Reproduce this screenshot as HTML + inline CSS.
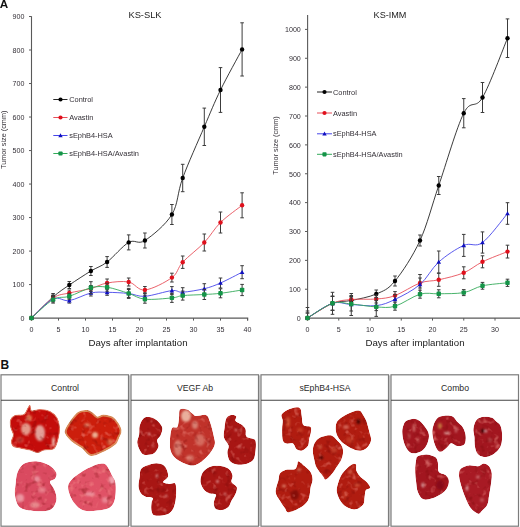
<!DOCTYPE html>
<html><head><meta charset="utf-8"><title>Figure</title>
<style>
html,body{margin:0;padding:0;background:#fff;}
body{width:520px;height:527px;position:relative;overflow:hidden;font-family:"Liberation Sans",sans-serif;}
</style></head><body>
<svg width="520" height="527" viewBox="0 0 520 527" style="position:absolute;left:0;top:0">
<defs><filter id="bl" x="-50%" y="-50%" width="200%" height="200%"><feGaussianBlur stdDeviation="0.8"/></filter><filter id="soft" filterUnits="userSpaceOnUse" x="0" y="400" width="520" height="127" color-interpolation-filters="sRGB"><feTurbulence type="fractalNoise" baseFrequency="0.16" numOctaves="2" seed="7" result="n"/><feColorMatrix in="n" type="matrix" values="0 0 0 0 0.98  0 0 0 0 0.62  0 0 0 0 0.58  1.6 0 0 0 -0.92" result="lt"/><feColorMatrix in="n" type="matrix" values="0 0 0 0 0.45  0 0 0 0 0.02  0 0 0 0 0.02  0 1.3 0 0 -0.72" result="dk"/><feMerge result="m"><feMergeNode in="SourceGraphic"/><feMergeNode in="dk"/><feMergeNode in="lt"/></feMerge><feComposite in="m" in2="SourceAlpha" operator="in" result="c"/><feGaussianBlur in="c" stdDeviation="0.6"/></filter></defs>
<rect x="129.10" y="375.4" width="1.3" height="150.6" fill="#c4c4c4"/>
<rect x="259.10" y="375.4" width="1.3" height="150.6" fill="#c4c4c4"/>
<rect x="389.10" y="375.4" width="1.3" height="150.6" fill="#c4c4c4"/>
<rect x="1.00" y="374.8" width="127.50" height="151.4" fill="#fff" stroke="#7c7c7c" stroke-width="1.2"/>
<path d="M1.00,400.3 H128.50" stroke="#444" stroke-width="1.1"/>
<text x="65.05" y="390.7" font-family='"Liberation Sans", sans-serif' font-size="8.7" text-anchor="middle" fill="#2a2a2a">Control</text>
<rect x="131.00" y="374.8" width="127.50" height="151.4" fill="#fff" stroke="#7c7c7c" stroke-width="1.2"/>
<path d="M131.00,400.3 H258.50" stroke="#444" stroke-width="1.1"/>
<text x="195.05" y="390.7" font-family='"Liberation Sans", sans-serif' font-size="8.7" text-anchor="middle" fill="#2a2a2a">VEGF Ab</text>
<rect x="261.00" y="374.8" width="127.50" height="151.4" fill="#fff" stroke="#7c7c7c" stroke-width="1.2"/>
<path d="M261.00,400.3 H388.50" stroke="#444" stroke-width="1.1"/>
<text x="325.05" y="390.7" font-family='"Liberation Sans", sans-serif' font-size="8.7" text-anchor="middle" fill="#2a2a2a">sEphB4-HSA</text>
<rect x="391.00" y="374.8" width="127.50" height="151.4" fill="#fff" stroke="#7c7c7c" stroke-width="1.2"/>
<path d="M391.00,400.3 H518.50" stroke="#444" stroke-width="1.1"/>
<text x="455.05" y="390.7" font-family='"Liberation Sans", sans-serif' font-size="8.7" text-anchor="middle" fill="#2a2a2a">Combo</text>
<g filter="url(#soft)">
<clipPath id="c1"><path d="M10.60,420.00 C11.27,417.92 12.77,416.42 15.00,415.50 C17.23,414.58 21.83,415.75 24.00,414.50 C26.17,413.25 27.00,409.48 28.00,408.00 C29.00,406.52 29.42,405.10 30.00,405.60 C30.58,406.10 29.83,410.35 31.50,411.00 C33.17,411.65 36.92,409.42 40.00,409.50 C43.08,409.58 47.17,410.08 50.00,411.50 C52.83,412.92 55.42,415.25 57.00,418.00 C58.58,420.75 59.33,424.50 59.50,428.00 C59.67,431.50 58.92,435.58 58.00,439.00 C57.08,442.42 56.33,446.67 54.00,448.50 C51.67,450.33 46.75,449.33 44.00,450.00 C41.25,450.67 39.83,452.50 37.50,452.50 C35.17,452.50 32.92,450.75 30.00,450.00 C27.08,449.25 22.83,448.67 20.00,448.00 C17.17,447.33 14.42,447.17 13.00,446.00 C11.58,444.83 11.42,442.83 11.50,441.00 C11.58,439.17 13.58,437.17 13.50,435.00 C13.42,432.83 11.48,430.50 11.00,428.00 C10.52,425.50 9.93,422.08 10.60,420.00Z"/></clipPath>
<path d="M10.60,420.00 C11.27,417.92 12.77,416.42 15.00,415.50 C17.23,414.58 21.83,415.75 24.00,414.50 C26.17,413.25 27.00,409.48 28.00,408.00 C29.00,406.52 29.42,405.10 30.00,405.60 C30.58,406.10 29.83,410.35 31.50,411.00 C33.17,411.65 36.92,409.42 40.00,409.50 C43.08,409.58 47.17,410.08 50.00,411.50 C52.83,412.92 55.42,415.25 57.00,418.00 C58.58,420.75 59.33,424.50 59.50,428.00 C59.67,431.50 58.92,435.58 58.00,439.00 C57.08,442.42 56.33,446.67 54.00,448.50 C51.67,450.33 46.75,449.33 44.00,450.00 C41.25,450.67 39.83,452.50 37.50,452.50 C35.17,452.50 32.92,450.75 30.00,450.00 C27.08,449.25 22.83,448.67 20.00,448.00 C17.17,447.33 14.42,447.17 13.00,446.00 C11.58,444.83 11.42,442.83 11.50,441.00 C11.58,439.17 13.58,437.17 13.50,435.00 C13.42,432.83 11.48,430.50 11.00,428.00 C10.52,425.50 9.93,422.08 10.60,420.00Z" fill="#c40c0a" stroke="#dd7058" stroke-width="1.20"/>
<g clip-path="url(#c1)"><g filter="url(#bl)">
<ellipse cx="26.00" cy="429.00" rx="5.00" ry="6.00" fill="#eab0a0" opacity="0.85"/>
<ellipse cx="40.00" cy="433.00" rx="5.00" ry="8.00" fill="#e8b8b0" opacity="0.85"/>
<ellipse cx="53.50" cy="442.00" rx="1.50" ry="5.00" fill="#f0d0c0" opacity="0.90"/>
<ellipse cx="29.00" cy="418.00" rx="3.00" ry="3.00" fill="#e89060" opacity="0.80"/>
<ellipse cx="20.00" cy="440.00" rx="4.00" ry="3.00" fill="#e07060" opacity="0.50"/>
</g></g>
<clipPath id="c2"><path d="M65.60,432.00 C65.39,428.67 69.06,424.25 71.25,421.00 C73.44,417.75 76.04,414.17 78.75,412.50 C81.46,410.83 85.12,410.75 87.50,411.00 C89.88,411.25 91.33,412.92 93.00,414.00 C94.67,415.08 95.71,417.23 97.50,417.50 C99.29,417.77 101.04,415.39 103.75,415.60 C106.46,415.81 110.94,416.35 113.75,418.75 C116.56,421.15 119.89,426.79 120.60,430.00 C121.31,433.21 118.93,435.71 118.00,438.00 C117.07,440.29 117.17,441.75 115.00,443.75 C112.83,445.75 108.96,448.12 105.00,450.00 C101.04,451.88 95.00,455.42 91.25,455.00 C87.50,454.58 85.62,449.83 82.50,447.50 C79.38,445.17 75.32,443.58 72.50,441.00 C69.68,438.42 65.81,435.33 65.60,432.00Z"/></clipPath>
<path d="M65.60,432.00 C65.39,428.67 69.06,424.25 71.25,421.00 C73.44,417.75 76.04,414.17 78.75,412.50 C81.46,410.83 85.12,410.75 87.50,411.00 C89.88,411.25 91.33,412.92 93.00,414.00 C94.67,415.08 95.71,417.23 97.50,417.50 C99.29,417.77 101.04,415.39 103.75,415.60 C106.46,415.81 110.94,416.35 113.75,418.75 C116.56,421.15 119.89,426.79 120.60,430.00 C121.31,433.21 118.93,435.71 118.00,438.00 C117.07,440.29 117.17,441.75 115.00,443.75 C112.83,445.75 108.96,448.12 105.00,450.00 C101.04,451.88 95.00,455.42 91.25,455.00 C87.50,454.58 85.62,449.83 82.50,447.50 C79.38,445.17 75.32,443.58 72.50,441.00 C69.68,438.42 65.81,435.33 65.60,432.00Z" fill="#cc1e0c" stroke="#d88a58" stroke-width="2.00"/>
<g clip-path="url(#c2)"><g filter="url(#bl)">
<ellipse cx="95.00" cy="435.00" rx="3.00" ry="3.00" fill="#eec0a0" opacity="0.90"/>
<ellipse cx="87.00" cy="425.00" rx="3.00" ry="2.00" fill="#e8a080" opacity="0.70"/>
<ellipse cx="110.00" cy="442.00" rx="3.00" ry="3.00" fill="#e8a070" opacity="0.60"/>
</g></g>
<clipPath id="c3"><path d="M23.75,463.75 C26.88,461.88 32.08,461.04 36.25,461.25 C40.42,461.46 45.42,463.12 48.75,465.00 C52.08,466.88 55.21,470.21 56.25,472.50 C57.29,474.79 56.04,477.18 55.00,478.75 C53.96,480.32 50.00,479.86 50.00,481.90 C50.00,483.94 53.96,487.82 55.00,491.00 C56.04,494.18 57.08,497.83 56.25,501.00 C55.42,504.17 53.75,508.33 50.00,510.00 C46.25,511.67 38.75,511.42 33.75,511.00 C28.75,510.58 23.12,510.00 20.00,507.50 C16.88,505.00 15.73,499.96 15.00,496.00 C14.27,492.04 15.18,487.67 15.60,483.75 C16.02,479.83 16.14,475.83 17.50,472.50 C18.86,469.17 20.62,465.62 23.75,463.75Z"/></clipPath>
<path d="M23.75,463.75 C26.88,461.88 32.08,461.04 36.25,461.25 C40.42,461.46 45.42,463.12 48.75,465.00 C52.08,466.88 55.21,470.21 56.25,472.50 C57.29,474.79 56.04,477.18 55.00,478.75 C53.96,480.32 50.00,479.86 50.00,481.90 C50.00,483.94 53.96,487.82 55.00,491.00 C56.04,494.18 57.08,497.83 56.25,501.00 C55.42,504.17 53.75,508.33 50.00,510.00 C46.25,511.67 38.75,511.42 33.75,511.00 C28.75,510.58 23.12,510.00 20.00,507.50 C16.88,505.00 15.73,499.96 15.00,496.00 C14.27,492.04 15.18,487.67 15.60,483.75 C16.02,479.83 16.14,475.83 17.50,472.50 C18.86,469.17 20.62,465.62 23.75,463.75Z" fill="#da4a60"/>
<g clip-path="url(#c3)"><g filter="url(#bl)">
<ellipse cx="20.00" cy="498.00" rx="4.00" ry="4.00" fill="#f0a8b0" opacity="0.80"/>
<ellipse cx="37.00" cy="479.00" rx="3.00" ry="3.00" fill="#f0a8b0" opacity="0.70"/>
<ellipse cx="42.00" cy="490.00" rx="4.00" ry="3.00" fill="#ec98a0" opacity="0.60"/>
<ellipse cx="35.00" cy="505.00" rx="5.00" ry="3.00" fill="#f0b0a8" opacity="0.60"/>
</g></g>
<clipPath id="c4"><path d="M100.00,463.75 C102.29,463.54 104.17,462.92 106.25,465.00 C108.33,467.08 110.94,473.12 112.50,476.25 C114.06,479.38 115.18,480.00 115.60,483.75 C116.02,487.50 115.93,494.79 115.00,498.75 C114.07,502.71 112.92,505.52 110.00,507.50 C107.08,509.48 101.88,510.08 97.50,510.60 C93.12,511.12 87.71,511.95 83.75,510.60 C79.79,509.25 76.36,506.14 73.75,502.50 C71.14,498.86 68.52,492.50 68.10,488.75 C67.68,485.00 68.85,482.92 71.25,480.00 C73.65,477.08 78.96,473.54 82.50,471.25 C86.04,468.96 89.58,467.50 92.50,466.25 C95.42,465.00 97.71,463.96 100.00,463.75Z"/></clipPath>
<path d="M100.00,463.75 C102.29,463.54 104.17,462.92 106.25,465.00 C108.33,467.08 110.94,473.12 112.50,476.25 C114.06,479.38 115.18,480.00 115.60,483.75 C116.02,487.50 115.93,494.79 115.00,498.75 C114.07,502.71 112.92,505.52 110.00,507.50 C107.08,509.48 101.88,510.08 97.50,510.60 C93.12,511.12 87.71,511.95 83.75,510.60 C79.79,509.25 76.36,506.14 73.75,502.50 C71.14,498.86 68.52,492.50 68.10,488.75 C67.68,485.00 68.85,482.92 71.25,480.00 C73.65,477.08 78.96,473.54 82.50,471.25 C86.04,468.96 89.58,467.50 92.50,466.25 C95.42,465.00 97.71,463.96 100.00,463.75Z" fill="#e05266"/>
<g clip-path="url(#c4)"><g filter="url(#bl)">
<ellipse cx="112.00" cy="480.00" rx="3.00" ry="4.00" fill="#f4b8c0" opacity="0.80"/>
<ellipse cx="90.00" cy="494.00" rx="5.00" ry="2.00" fill="#f0a8b0" opacity="0.70"/>
<ellipse cx="105.00" cy="500.00" rx="3.00" ry="3.00" fill="#f0a8b0" opacity="0.60"/>
</g></g>
<clipPath id="c5"><path d="M143.40,418.50 C144.98,417.00 147.05,416.93 149.10,417.10 C151.15,417.27 153.80,418.32 155.70,419.50 C157.60,420.68 159.38,422.62 160.50,424.20 C161.62,425.78 162.40,427.10 162.40,429.00 C162.40,430.90 161.38,433.70 160.50,435.60 C159.62,437.50 157.42,438.65 157.10,440.40 C156.78,442.15 158.83,444.22 158.60,446.10 C158.37,447.98 156.97,450.28 155.70,451.70 C154.43,453.12 153.05,454.12 151.00,454.60 C148.95,455.08 145.30,455.40 143.40,454.60 C141.50,453.80 140.63,451.85 139.60,449.80 C138.57,447.75 137.28,444.82 137.20,442.30 C137.12,439.78 138.70,437.40 139.10,434.70 C139.50,432.00 138.88,428.80 139.60,426.10 C140.32,423.40 141.82,420.00 143.40,418.50Z"/></clipPath>
<path d="M143.40,418.50 C144.98,417.00 147.05,416.93 149.10,417.10 C151.15,417.27 153.80,418.32 155.70,419.50 C157.60,420.68 159.38,422.62 160.50,424.20 C161.62,425.78 162.40,427.10 162.40,429.00 C162.40,430.90 161.38,433.70 160.50,435.60 C159.62,437.50 157.42,438.65 157.10,440.40 C156.78,442.15 158.83,444.22 158.60,446.10 C158.37,447.98 156.97,450.28 155.70,451.70 C154.43,453.12 153.05,454.12 151.00,454.60 C148.95,455.08 145.30,455.40 143.40,454.60 C141.50,453.80 140.63,451.85 139.60,449.80 C138.57,447.75 137.28,444.82 137.20,442.30 C137.12,439.78 138.70,437.40 139.10,434.70 C139.50,432.00 138.88,428.80 139.60,426.10 C140.32,423.40 141.82,420.00 143.40,418.50Z" fill="#a81614"/>
<g clip-path="url(#c5)"><g filter="url(#bl)">
<ellipse cx="149.00" cy="434.00" rx="1.20" ry="1.20" fill="#f4c0c0" opacity="0.90"/>
<ellipse cx="153.00" cy="446.00" rx="1.00" ry="1.00" fill="#f0b0b0" opacity="0.80"/>
</g></g>
<clipPath id="c6"><path d="M180.00,409.50 C181.33,408.08 184.83,408.75 187.00,409.50 C189.17,410.25 191.50,412.92 193.00,414.00 C194.50,415.08 193.83,415.83 196.00,416.00 C198.17,416.17 203.67,414.00 206.00,415.00 C208.33,416.00 208.71,418.50 210.00,422.00 C211.29,425.50 213.02,432.05 213.75,436.00 C214.48,439.95 215.74,442.03 214.40,445.70 C213.06,449.37 209.20,454.70 205.70,458.00 C202.20,461.30 197.92,465.08 193.40,465.50 C188.88,465.92 182.33,462.75 178.60,460.50 C174.87,458.25 172.43,455.42 171.00,452.00 C169.57,448.58 169.83,444.00 170.00,440.00 C170.17,436.00 170.78,430.17 172.00,428.00 C173.22,425.83 176.13,428.67 177.30,427.00 C178.47,425.33 178.55,420.92 179.00,418.00 C179.45,415.08 178.67,410.92 180.00,409.50Z"/></clipPath>
<path d="M180.00,409.50 C181.33,408.08 184.83,408.75 187.00,409.50 C189.17,410.25 191.50,412.92 193.00,414.00 C194.50,415.08 193.83,415.83 196.00,416.00 C198.17,416.17 203.67,414.00 206.00,415.00 C208.33,416.00 208.71,418.50 210.00,422.00 C211.29,425.50 213.02,432.05 213.75,436.00 C214.48,439.95 215.74,442.03 214.40,445.70 C213.06,449.37 209.20,454.70 205.70,458.00 C202.20,461.30 197.92,465.08 193.40,465.50 C188.88,465.92 182.33,462.75 178.60,460.50 C174.87,458.25 172.43,455.42 171.00,452.00 C169.57,448.58 169.83,444.00 170.00,440.00 C170.17,436.00 170.78,430.17 172.00,428.00 C173.22,425.83 176.13,428.67 177.30,427.00 C178.47,425.33 178.55,420.92 179.00,418.00 C179.45,415.08 178.67,410.92 180.00,409.50Z" fill="#c0322a"/>
<g clip-path="url(#c6)"><g filter="url(#bl)">
<ellipse cx="186.00" cy="416.00" rx="5.00" ry="6.00" fill="#eebca8" opacity="0.90"/>
<ellipse cx="178.00" cy="448.00" rx="4.00" ry="8.00" fill="#e8a898" opacity="0.60"/>
<ellipse cx="200.00" cy="440.00" rx="5.00" ry="6.00" fill="#e29080" opacity="0.60"/>
<ellipse cx="195.00" cy="425.00" rx="3.00" ry="4.00" fill="#e8b0a0" opacity="0.60"/>
<ellipse cx="190.00" cy="458.00" rx="4.00" ry="3.00" fill="#e8a898" opacity="0.50"/>
</g></g>
<clipPath id="c7"><path d="M226.20,418.60 C227.27,416.45 229.23,415.50 230.90,415.10 C232.57,414.70 235.42,415.23 236.20,416.20 C236.98,417.17 234.72,419.52 235.60,420.90 C236.48,422.28 239.83,423.12 241.50,424.50 C243.17,425.88 244.82,427.25 245.60,429.20 C246.38,431.15 245.12,434.63 246.20,436.20 C247.28,437.77 250.53,437.80 252.10,438.60 C253.67,439.40 255.02,439.03 255.60,441.00 C256.18,442.97 255.98,447.27 255.60,450.40 C255.22,453.53 254.87,457.55 253.30,459.80 C251.73,462.05 248.95,463.12 246.20,463.90 C243.45,464.68 239.53,465.00 236.80,464.50 C234.07,464.00 231.37,462.87 229.80,460.90 C228.23,458.93 227.60,455.25 227.40,452.70 C227.20,450.15 229.18,448.15 228.60,445.60 C228.02,443.05 224.58,440.33 223.90,437.40 C223.22,434.47 224.12,431.13 224.50,428.00 C224.88,424.87 225.13,420.75 226.20,418.60Z"/></clipPath>
<path d="M226.20,418.60 C227.27,416.45 229.23,415.50 230.90,415.10 C232.57,414.70 235.42,415.23 236.20,416.20 C236.98,417.17 234.72,419.52 235.60,420.90 C236.48,422.28 239.83,423.12 241.50,424.50 C243.17,425.88 244.82,427.25 245.60,429.20 C246.38,431.15 245.12,434.63 246.20,436.20 C247.28,437.77 250.53,437.80 252.10,438.60 C253.67,439.40 255.02,439.03 255.60,441.00 C256.18,442.97 255.98,447.27 255.60,450.40 C255.22,453.53 254.87,457.55 253.30,459.80 C251.73,462.05 248.95,463.12 246.20,463.90 C243.45,464.68 239.53,465.00 236.80,464.50 C234.07,464.00 231.37,462.87 229.80,460.90 C228.23,458.93 227.60,455.25 227.40,452.70 C227.20,450.15 229.18,448.15 228.60,445.60 C228.02,443.05 224.58,440.33 223.90,437.40 C223.22,434.47 224.12,431.13 224.50,428.00 C224.88,424.87 225.13,420.75 226.20,418.60Z" fill="#a81614"/>
<g clip-path="url(#c7)"><g filter="url(#bl)">
<ellipse cx="236.00" cy="430.00" rx="1.20" ry="1.20" fill="#f0b8b8" opacity="0.80"/>
<ellipse cx="240.00" cy="447.00" rx="1.00" ry="1.00" fill="#f0b8b8" opacity="0.80"/>
</g></g>
<clipPath id="c8"><path d="M140.90,469.20 C142.08,467.33 144.25,466.58 146.80,465.60 C149.35,464.62 153.47,463.38 156.20,463.30 C158.93,463.22 161.43,464.02 163.20,465.10 C164.97,466.18 166.00,467.85 166.80,469.80 C167.60,471.75 168.60,474.75 168.00,476.80 C167.40,478.85 163.02,480.92 163.20,482.10 C163.38,483.28 167.13,483.70 169.10,483.90 C171.07,484.10 173.82,482.32 175.00,483.30 C176.18,484.28 176.10,486.95 176.20,489.80 C176.30,492.65 176.20,497.07 175.60,500.40 C175.00,503.73 174.07,507.45 172.60,509.80 C171.13,512.15 169.73,513.53 166.80,514.50 C163.87,515.47 157.55,516.20 155.00,515.60 C152.45,515.00 152.08,513.05 151.50,510.90 C150.92,508.75 151.32,504.85 151.50,502.70 C151.68,500.55 153.58,498.98 152.60,498.00 C151.62,497.02 147.55,497.58 145.60,496.80 C143.65,496.02 142.08,495.07 140.90,493.30 C139.72,491.53 138.70,488.95 138.50,486.20 C138.30,483.45 139.30,479.63 139.70,476.80 C140.10,473.97 139.72,471.07 140.90,469.20Z"/></clipPath>
<path d="M140.90,469.20 C142.08,467.33 144.25,466.58 146.80,465.60 C149.35,464.62 153.47,463.38 156.20,463.30 C158.93,463.22 161.43,464.02 163.20,465.10 C164.97,466.18 166.00,467.85 166.80,469.80 C167.60,471.75 168.60,474.75 168.00,476.80 C167.40,478.85 163.02,480.92 163.20,482.10 C163.38,483.28 167.13,483.70 169.10,483.90 C171.07,484.10 173.82,482.32 175.00,483.30 C176.18,484.28 176.10,486.95 176.20,489.80 C176.30,492.65 176.20,497.07 175.60,500.40 C175.00,503.73 174.07,507.45 172.60,509.80 C171.13,512.15 169.73,513.53 166.80,514.50 C163.87,515.47 157.55,516.20 155.00,515.60 C152.45,515.00 152.08,513.05 151.50,510.90 C150.92,508.75 151.32,504.85 151.50,502.70 C151.68,500.55 153.58,498.98 152.60,498.00 C151.62,497.02 147.55,497.58 145.60,496.80 C143.65,496.02 142.08,495.07 140.90,493.30 C139.72,491.53 138.70,488.95 138.50,486.20 C138.30,483.45 139.30,479.63 139.70,476.80 C140.10,473.97 139.72,471.07 140.90,469.20Z" fill="#a81614"/>
<g clip-path="url(#c8)"><g filter="url(#bl)">
<ellipse cx="157.00" cy="476.00" rx="1.00" ry="1.80" fill="#f4c8c8" opacity="0.90"/>
<ellipse cx="166.00" cy="496.00" rx="1.20" ry="1.20" fill="#f0b8b8" opacity="0.80"/>
</g></g>
<clipPath id="c9"><path d="M204.40,470.40 C206.13,468.83 208.75,466.98 211.70,466.30 C214.65,465.62 219.15,465.78 222.10,466.30 C225.05,466.82 227.65,467.83 229.40,469.40 C231.15,470.97 232.25,473.62 232.60,475.70 C232.95,477.78 230.80,480.00 231.50,481.90 C232.20,483.80 236.10,485.18 236.80,487.10 C237.50,489.02 236.58,491.13 235.70,493.40 C234.82,495.67 232.72,498.43 231.50,500.70 C230.28,502.97 229.97,505.43 228.40,507.00 C226.83,508.57 224.18,509.75 222.10,510.10 C220.02,510.45 217.28,510.15 215.90,509.10 C214.52,508.05 213.98,505.55 213.80,503.80 C213.62,502.05 214.45,500.17 214.80,498.60 C215.15,497.03 216.77,495.27 215.90,494.40 C215.03,493.53 211.52,494.08 209.60,493.40 C207.68,492.72 205.88,492.03 204.40,490.30 C202.92,488.57 201.22,485.43 200.70,483.00 C200.18,480.57 200.68,477.80 201.30,475.70 C201.92,473.60 202.67,471.97 204.40,470.40Z"/></clipPath>
<path d="M204.40,470.40 C206.13,468.83 208.75,466.98 211.70,466.30 C214.65,465.62 219.15,465.78 222.10,466.30 C225.05,466.82 227.65,467.83 229.40,469.40 C231.15,470.97 232.25,473.62 232.60,475.70 C232.95,477.78 230.80,480.00 231.50,481.90 C232.20,483.80 236.10,485.18 236.80,487.10 C237.50,489.02 236.58,491.13 235.70,493.40 C234.82,495.67 232.72,498.43 231.50,500.70 C230.28,502.97 229.97,505.43 228.40,507.00 C226.83,508.57 224.18,509.75 222.10,510.10 C220.02,510.45 217.28,510.15 215.90,509.10 C214.52,508.05 213.98,505.55 213.80,503.80 C213.62,502.05 214.45,500.17 214.80,498.60 C215.15,497.03 216.77,495.27 215.90,494.40 C215.03,493.53 211.52,494.08 209.60,493.40 C207.68,492.72 205.88,492.03 204.40,490.30 C202.92,488.57 201.22,485.43 200.70,483.00 C200.18,480.57 200.68,477.80 201.30,475.70 C201.92,473.60 202.67,471.97 204.40,470.40Z" fill="#a81614"/>
<g clip-path="url(#c9)"><g filter="url(#bl)">
<ellipse cx="217.50" cy="481.50" rx="1.30" ry="1.30" fill="#f4c8c8" opacity="0.90"/>
<ellipse cx="225.00" cy="494.00" rx="1.20" ry="1.20" fill="#f0b8b8" opacity="0.80"/>
</g></g>
<clipPath id="c10"><path d="M281.50,414.70 C282.27,412.95 284.80,411.25 287.30,410.00 C289.80,408.75 294.28,407.38 296.50,407.20 C298.72,407.02 299.73,407.47 300.60,408.90 C301.47,410.33 301.23,413.12 301.70,415.80 C302.17,418.48 301.95,423.17 303.40,425.00 C304.85,426.83 309.13,425.63 310.40,426.80 C311.67,427.97 311.20,429.98 311.00,432.00 C310.80,434.02 309.70,436.60 309.20,438.90 C308.70,441.20 309.15,443.88 308.00,445.80 C306.85,447.72 304.22,449.82 302.30,450.40 C300.38,450.98 298.05,450.45 296.50,449.30 C294.95,448.15 294.73,444.47 293.00,443.50 C291.27,442.53 287.82,444.08 286.10,443.50 C284.38,442.92 283.37,442.50 282.70,440.00 C282.03,437.50 282.10,431.75 282.10,428.50 C282.10,425.25 282.80,422.80 282.70,420.50 C282.60,418.20 280.73,416.45 281.50,414.70Z"/></clipPath>
<path d="M281.50,414.70 C282.27,412.95 284.80,411.25 287.30,410.00 C289.80,408.75 294.28,407.38 296.50,407.20 C298.72,407.02 299.73,407.47 300.60,408.90 C301.47,410.33 301.23,413.12 301.70,415.80 C302.17,418.48 301.95,423.17 303.40,425.00 C304.85,426.83 309.13,425.63 310.40,426.80 C311.67,427.97 311.20,429.98 311.00,432.00 C310.80,434.02 309.70,436.60 309.20,438.90 C308.70,441.20 309.15,443.88 308.00,445.80 C306.85,447.72 304.22,449.82 302.30,450.40 C300.38,450.98 298.05,450.45 296.50,449.30 C294.95,448.15 294.73,444.47 293.00,443.50 C291.27,442.53 287.82,444.08 286.10,443.50 C284.38,442.92 283.37,442.50 282.70,440.00 C282.03,437.50 282.10,431.75 282.10,428.50 C282.10,425.25 282.80,422.80 282.70,420.50 C282.60,418.20 280.73,416.45 281.50,414.70Z" fill="#b01c10"/>
<g clip-path="url(#c10)"><g filter="url(#bl)">
<ellipse cx="288.00" cy="422.00" rx="2.00" ry="5.00" fill="#e07048" opacity="0.60"/>
<ellipse cx="300.00" cy="430.00" rx="3.00" ry="2.00" fill="#d85a3a" opacity="0.50"/>
</g></g>
<clipPath id="c11"><path d="M342.30,417.00 C345.00,415.17 349.82,412.85 352.70,411.80 C355.58,410.75 357.88,410.22 359.60,410.70 C361.32,411.18 361.85,412.88 363.00,414.70 C364.15,416.52 365.43,418.72 366.50,421.60 C367.57,424.48 368.63,428.93 369.40,432.00 C370.17,435.07 371.38,437.50 371.10,440.00 C370.82,442.50 369.23,445.27 367.70,447.00 C366.17,448.73 364.02,449.92 361.90,450.40 C359.78,450.88 357.50,450.67 355.00,449.90 C352.50,449.13 349.40,447.45 346.90,445.80 C344.40,444.15 341.82,442.30 340.00,440.00 C338.18,437.70 336.58,434.87 336.00,432.00 C335.42,429.13 335.45,425.30 336.50,422.80 C337.55,420.30 339.60,418.83 342.30,417.00Z"/></clipPath>
<path d="M342.30,417.00 C345.00,415.17 349.82,412.85 352.70,411.80 C355.58,410.75 357.88,410.22 359.60,410.70 C361.32,411.18 361.85,412.88 363.00,414.70 C364.15,416.52 365.43,418.72 366.50,421.60 C367.57,424.48 368.63,428.93 369.40,432.00 C370.17,435.07 371.38,437.50 371.10,440.00 C370.82,442.50 369.23,445.27 367.70,447.00 C366.17,448.73 364.02,449.92 361.90,450.40 C359.78,450.88 357.50,450.67 355.00,449.90 C352.50,449.13 349.40,447.45 346.90,445.80 C344.40,444.15 341.82,442.30 340.00,440.00 C338.18,437.70 336.58,434.87 336.00,432.00 C335.42,429.13 335.45,425.30 336.50,422.80 C337.55,420.30 339.60,418.83 342.30,417.00Z" fill="#b01c10"/>
<g clip-path="url(#c11)"><g filter="url(#bl)">
<ellipse cx="358.40" cy="421.60" rx="1.80" ry="2.50" fill="#300000" opacity="0.90"/>
<ellipse cx="346.00" cy="427.00" rx="3.00" ry="2.00" fill="#e89080" opacity="0.60"/>
<ellipse cx="350.00" cy="440.00" rx="4.00" ry="3.00" fill="#d86040" opacity="0.40"/>
</g></g>
<clipPath id="c12"><path d="M318.60,438.40 C320.52,437.08 323.65,436.15 325.90,435.70 C328.15,435.25 330.37,435.08 332.10,435.70 C333.83,436.32 334.82,437.92 336.30,439.40 C337.78,440.88 339.87,442.68 341.00,444.60 C342.13,446.52 343.02,448.47 343.10,450.90 C343.18,453.33 342.63,456.42 341.50,459.20 C340.37,461.98 337.87,465.17 336.30,467.60 C334.73,470.03 333.83,471.80 332.10,473.80 C330.37,475.80 327.47,479.25 325.90,479.60 C324.33,479.95 324.27,477.90 322.70,475.90 C321.13,473.90 317.88,470.20 316.50,467.60 C315.12,465.00 315.02,463.08 314.40,460.30 C313.78,457.52 312.80,453.68 312.80,450.90 C312.80,448.12 313.43,445.68 314.40,443.60 C315.37,441.52 316.68,439.72 318.60,438.40Z"/></clipPath>
<path d="M318.60,438.40 C320.52,437.08 323.65,436.15 325.90,435.70 C328.15,435.25 330.37,435.08 332.10,435.70 C333.83,436.32 334.82,437.92 336.30,439.40 C337.78,440.88 339.87,442.68 341.00,444.60 C342.13,446.52 343.02,448.47 343.10,450.90 C343.18,453.33 342.63,456.42 341.50,459.20 C340.37,461.98 337.87,465.17 336.30,467.60 C334.73,470.03 333.83,471.80 332.10,473.80 C330.37,475.80 327.47,479.25 325.90,479.60 C324.33,479.95 324.27,477.90 322.70,475.90 C321.13,473.90 317.88,470.20 316.50,467.60 C315.12,465.00 315.02,463.08 314.40,460.30 C313.78,457.52 312.80,453.68 312.80,450.90 C312.80,448.12 313.43,445.68 314.40,443.60 C315.37,441.52 316.68,439.72 318.60,438.40Z" fill="#b01c10"/>
<g clip-path="url(#c12)"><g filter="url(#bl)">
<ellipse cx="321.20" cy="457.70" rx="1.80" ry="1.60" fill="#300000" opacity="0.90"/>
<ellipse cx="320.00" cy="447.00" rx="2.00" ry="2.00" fill="#e08060" opacity="0.60"/>
<ellipse cx="334.00" cy="450.00" rx="3.00" ry="3.00" fill="#d86848" opacity="0.40"/>
</g></g>
<clipPath id="c13"><path d="M298.40,461.20 C299.63,461.40 302.55,464.25 304.60,466.10 C306.65,467.95 309.37,470.03 310.70,472.30 C312.03,474.57 312.60,477.23 312.60,479.70 C312.60,482.17 311.22,484.43 310.70,487.10 C310.18,489.77 310.12,493.23 309.50,495.70 C308.88,498.17 308.65,499.83 307.00,501.90 C305.35,503.97 302.68,506.35 299.60,508.10 C296.52,509.85 290.97,512.40 288.50,512.40 C286.03,512.40 286.23,510.05 284.80,508.10 C283.37,506.15 281.43,503.38 279.90,500.70 C278.37,498.02 275.82,495.50 275.60,492.00 C275.38,488.50 277.88,482.78 278.60,479.70 C279.32,476.62 278.67,475.15 279.90,473.50 C281.13,471.85 283.53,470.52 286.00,469.80 C288.47,469.08 292.83,470.02 294.70,469.20 C296.57,468.38 296.58,466.23 297.20,464.90 C297.82,463.57 297.17,461.00 298.40,461.20Z"/></clipPath>
<path d="M298.40,461.20 C299.63,461.40 302.55,464.25 304.60,466.10 C306.65,467.95 309.37,470.03 310.70,472.30 C312.03,474.57 312.60,477.23 312.60,479.70 C312.60,482.17 311.22,484.43 310.70,487.10 C310.18,489.77 310.12,493.23 309.50,495.70 C308.88,498.17 308.65,499.83 307.00,501.90 C305.35,503.97 302.68,506.35 299.60,508.10 C296.52,509.85 290.97,512.40 288.50,512.40 C286.03,512.40 286.23,510.05 284.80,508.10 C283.37,506.15 281.43,503.38 279.90,500.70 C278.37,498.02 275.82,495.50 275.60,492.00 C275.38,488.50 277.88,482.78 278.60,479.70 C279.32,476.62 278.67,475.15 279.90,473.50 C281.13,471.85 283.53,470.52 286.00,469.80 C288.47,469.08 292.83,470.02 294.70,469.20 C296.57,468.38 296.58,466.23 297.20,464.90 C297.82,463.57 297.17,461.00 298.40,461.20Z" fill="#b01c10"/>
<g clip-path="url(#c13)"><g filter="url(#bl)">
<ellipse cx="295.00" cy="495.00" rx="4.00" ry="5.00" fill="#5a0808" opacity="0.50"/>
<ellipse cx="284.00" cy="486.00" rx="2.00" ry="1.50" fill="#f0a890" opacity="0.70"/>
<ellipse cx="299.00" cy="470.00" rx="1.50" ry="2.00" fill="#f0b090" opacity="0.60"/>
</g></g>
<clipPath id="c14"><path d="M351.00,464.90 C353.27,463.37 354.98,463.28 355.90,464.30 C356.82,465.32 355.67,468.85 356.50,471.00 C357.33,473.15 359.15,475.33 360.90,477.20 C362.65,479.07 365.47,480.45 367.00,482.20 C368.53,483.95 370.30,486.37 370.10,487.70 C369.90,489.03 366.72,488.65 365.80,490.20 C364.88,491.75 365.02,494.63 364.60,497.00 C364.18,499.37 364.75,502.35 363.30,504.40 C361.85,506.45 358.37,508.68 355.90,509.30 C353.43,509.92 350.97,509.33 348.50,508.10 C346.03,506.87 343.05,504.58 341.10,501.90 C339.15,499.22 337.32,495.08 336.80,492.00 C336.28,488.92 337.08,486.48 338.00,483.40 C338.92,480.32 340.13,476.58 342.30,473.50 C344.47,470.42 348.73,466.43 351.00,464.90Z"/></clipPath>
<path d="M351.00,464.90 C353.27,463.37 354.98,463.28 355.90,464.30 C356.82,465.32 355.67,468.85 356.50,471.00 C357.33,473.15 359.15,475.33 360.90,477.20 C362.65,479.07 365.47,480.45 367.00,482.20 C368.53,483.95 370.30,486.37 370.10,487.70 C369.90,489.03 366.72,488.65 365.80,490.20 C364.88,491.75 365.02,494.63 364.60,497.00 C364.18,499.37 364.75,502.35 363.30,504.40 C361.85,506.45 358.37,508.68 355.90,509.30 C353.43,509.92 350.97,509.33 348.50,508.10 C346.03,506.87 343.05,504.58 341.10,501.90 C339.15,499.22 337.32,495.08 336.80,492.00 C336.28,488.92 337.08,486.48 338.00,483.40 C338.92,480.32 340.13,476.58 342.30,473.50 C344.47,470.42 348.73,466.43 351.00,464.90Z" fill="#b01c10"/>
<g clip-path="url(#c14)"><g filter="url(#bl)">
<ellipse cx="350.00" cy="472.00" rx="2.00" ry="2.00" fill="#e89070" opacity="0.60"/>
<ellipse cx="357.00" cy="485.00" rx="3.00" ry="2.00" fill="#e07050" opacity="0.50"/>
<ellipse cx="345.00" cy="495.00" rx="3.00" ry="4.00" fill="#d05030" opacity="0.30"/>
</g></g>
<clipPath id="c15"><path d="M406.50,420.80 C408.18,419.85 411.63,418.70 413.80,418.70 C415.97,418.70 417.58,419.37 419.50,420.80 C421.42,422.23 423.73,425.02 425.30,427.30 C426.87,429.58 428.53,431.85 428.90,434.50 C429.27,437.15 428.58,440.55 427.50,443.20 C426.42,445.85 424.68,448.72 422.40,450.40 C420.12,452.08 416.20,453.30 413.80,453.30 C411.40,453.30 409.68,452.33 408.00,450.40 C406.32,448.47 404.67,444.83 403.70,441.70 C402.73,438.57 402.20,434.48 402.20,431.60 C402.20,428.72 402.98,426.20 403.70,424.40 C404.42,422.60 404.82,421.75 406.50,420.80Z"/></clipPath>
<path d="M406.50,420.80 C408.18,419.85 411.63,418.70 413.80,418.70 C415.97,418.70 417.58,419.37 419.50,420.80 C421.42,422.23 423.73,425.02 425.30,427.30 C426.87,429.58 428.53,431.85 428.90,434.50 C429.27,437.15 428.58,440.55 427.50,443.20 C426.42,445.85 424.68,448.72 422.40,450.40 C420.12,452.08 416.20,453.30 413.80,453.30 C411.40,453.30 409.68,452.33 408.00,450.40 C406.32,448.47 404.67,444.83 403.70,441.70 C402.73,438.57 402.20,434.48 402.20,431.60 C402.20,428.72 402.98,426.20 403.70,424.40 C404.42,422.60 404.82,421.75 406.50,420.80Z" fill="#a2161f"/>
<g clip-path="url(#c15)"><g filter="url(#bl)">
<ellipse cx="414.00" cy="428.00" rx="1.20" ry="4.00" fill="#e89890" opacity="0.70"/>
<ellipse cx="409.00" cy="436.00" rx="1.00" ry="3.00" fill="#e89890" opacity="0.60"/>
<ellipse cx="418.00" cy="440.00" rx="1.00" ry="3.00" fill="#e89890" opacity="0.50"/>
</g></g>
<clipPath id="c16"><path d="M436.80,418.70 C438.73,416.53 441.45,416.17 444.10,415.80 C446.75,415.43 450.55,415.55 452.70,416.50 C454.85,417.45 455.32,419.70 457.00,421.50 C458.68,423.30 461.35,424.88 462.80,427.30 C464.25,429.72 465.45,433.12 465.70,436.00 C465.95,438.88 465.75,442.92 464.30,444.60 C462.85,446.28 459.17,446.33 457.00,446.10 C454.83,445.87 452.97,442.97 451.30,443.20 C449.63,443.43 448.68,446.07 447.00,447.50 C445.32,448.93 442.90,451.55 441.20,451.80 C439.50,452.05 438.13,451.15 436.80,449.00 C435.47,446.85 433.92,442.27 433.20,438.90 C432.48,435.53 431.90,432.17 432.50,428.80 C433.10,425.43 434.87,420.87 436.80,418.70Z"/></clipPath>
<path d="M436.80,418.70 C438.73,416.53 441.45,416.17 444.10,415.80 C446.75,415.43 450.55,415.55 452.70,416.50 C454.85,417.45 455.32,419.70 457.00,421.50 C458.68,423.30 461.35,424.88 462.80,427.30 C464.25,429.72 465.45,433.12 465.70,436.00 C465.95,438.88 465.75,442.92 464.30,444.60 C462.85,446.28 459.17,446.33 457.00,446.10 C454.83,445.87 452.97,442.97 451.30,443.20 C449.63,443.43 448.68,446.07 447.00,447.50 C445.32,448.93 442.90,451.55 441.20,451.80 C439.50,452.05 438.13,451.15 436.80,449.00 C435.47,446.85 433.92,442.27 433.20,438.90 C432.48,435.53 431.90,432.17 432.50,428.80 C433.10,425.43 434.87,420.87 436.80,418.70Z" fill="#a2161f"/>
<g clip-path="url(#c16)"><g filter="url(#bl)">
<ellipse cx="440.00" cy="426.00" rx="2.00" ry="3.00" fill="#d8b050" opacity="0.60"/>
<ellipse cx="447.00" cy="433.00" rx="3.00" ry="1.20" fill="#f0d0c8" opacity="0.80"/>
<ellipse cx="456.00" cy="430.00" rx="1.20" ry="3.00" fill="#e8a0a0" opacity="0.60"/>
</g></g>
<clipPath id="c17"><path d="M476.50,419.90 C478.23,417.90 481.20,417.15 483.80,416.80 C486.40,416.45 490.02,417.02 492.10,417.80 C494.18,418.58 494.90,420.18 496.30,421.50 C497.70,422.82 499.53,423.62 500.50,425.70 C501.47,427.78 501.93,431.05 502.10,434.00 C502.27,436.95 502.12,440.78 501.50,443.40 C500.88,446.02 499.97,447.78 498.40,449.70 C496.83,451.62 494.53,453.68 492.10,454.90 C489.67,456.12 486.23,457.18 483.80,457.00 C481.37,456.82 478.98,455.55 477.50,453.80 C476.02,452.05 475.42,449.28 474.90,446.50 C474.38,443.72 474.65,440.05 474.40,437.10 C474.15,434.15 473.05,431.67 473.40,428.80 C473.75,425.93 474.77,421.90 476.50,419.90Z"/></clipPath>
<path d="M476.50,419.90 C478.23,417.90 481.20,417.15 483.80,416.80 C486.40,416.45 490.02,417.02 492.10,417.80 C494.18,418.58 494.90,420.18 496.30,421.50 C497.70,422.82 499.53,423.62 500.50,425.70 C501.47,427.78 501.93,431.05 502.10,434.00 C502.27,436.95 502.12,440.78 501.50,443.40 C500.88,446.02 499.97,447.78 498.40,449.70 C496.83,451.62 494.53,453.68 492.10,454.90 C489.67,456.12 486.23,457.18 483.80,457.00 C481.37,456.82 478.98,455.55 477.50,453.80 C476.02,452.05 475.42,449.28 474.90,446.50 C474.38,443.72 474.65,440.05 474.40,437.10 C474.15,434.15 473.05,431.67 473.40,428.80 C473.75,425.93 474.77,421.90 476.50,419.90Z" fill="#a2161f"/>
<g clip-path="url(#c17)"><g filter="url(#bl)">
<ellipse cx="482.70" cy="430.90" rx="2.00" ry="1.80" fill="#200008" opacity="0.80"/>
<ellipse cx="486.00" cy="431.00" rx="1.00" ry="1.50" fill="#f0f0f0" opacity="0.80"/>
<ellipse cx="490.00" cy="440.00" rx="2.00" ry="2.00" fill="#e09090" opacity="0.50"/>
</g></g>
<clipPath id="c18"><path d="M417.80,456.20 C419.62,455.13 424.00,454.25 426.90,454.40 C429.80,454.55 433.37,455.73 435.20,457.10 C437.03,458.47 437.30,460.15 437.90,462.60 C438.50,465.05 437.43,469.67 438.80,471.80 C440.17,473.93 444.42,473.88 446.10,475.40 C447.78,476.92 448.75,478.77 448.90,480.90 C449.05,483.03 448.22,486.07 447.00,488.20 C445.78,490.33 444.03,492.02 441.60,493.70 C439.17,495.38 435.45,497.38 432.40,498.30 C429.35,499.22 425.73,500.27 423.30,499.20 C420.87,498.13 419.02,494.95 417.80,491.90 C416.58,488.85 416.45,484.57 416.00,480.90 C415.55,477.23 415.10,473.25 415.10,469.90 C415.10,466.55 415.55,463.08 416.00,460.80 C416.45,458.52 415.98,457.27 417.80,456.20Z"/></clipPath>
<path d="M417.80,456.20 C419.62,455.13 424.00,454.25 426.90,454.40 C429.80,454.55 433.37,455.73 435.20,457.10 C437.03,458.47 437.30,460.15 437.90,462.60 C438.50,465.05 437.43,469.67 438.80,471.80 C440.17,473.93 444.42,473.88 446.10,475.40 C447.78,476.92 448.75,478.77 448.90,480.90 C449.05,483.03 448.22,486.07 447.00,488.20 C445.78,490.33 444.03,492.02 441.60,493.70 C439.17,495.38 435.45,497.38 432.40,498.30 C429.35,499.22 425.73,500.27 423.30,499.20 C420.87,498.13 419.02,494.95 417.80,491.90 C416.58,488.85 416.45,484.57 416.00,480.90 C415.55,477.23 415.10,473.25 415.10,469.90 C415.10,466.55 415.55,463.08 416.00,460.80 C416.45,458.52 415.98,457.27 417.80,456.20Z" fill="#a2161f"/>
<g clip-path="url(#c18)"><g filter="url(#bl)">
<ellipse cx="423.00" cy="485.00" rx="1.50" ry="2.50" fill="#f0d0d0" opacity="0.80"/>
<ellipse cx="440.00" cy="485.00" rx="4.00" ry="5.00" fill="#700810" opacity="0.50"/>
<ellipse cx="428.00" cy="462.00" rx="2.00" ry="2.00" fill="#e89090" opacity="0.50"/>
</g></g>
<clipPath id="c19"><path d="M461.70,468.10 C463.38,466.73 466.27,465.70 469.00,465.40 C471.73,465.10 475.67,466.62 478.10,466.30 C480.53,465.98 481.77,463.50 483.60,463.50 C485.43,463.50 487.73,464.62 489.10,466.30 C490.47,467.98 491.50,470.55 491.80,473.60 C492.10,476.65 491.35,480.95 490.90,484.60 C490.45,488.25 489.70,492.15 489.10,495.50 C488.50,498.85 488.52,502.10 487.30,504.70 C486.08,507.30 483.33,509.58 481.80,511.10 C480.27,512.62 479.93,514.27 478.10,513.80 C476.27,513.33 472.93,511.03 470.80,508.30 C468.67,505.57 466.97,501.35 465.30,497.40 C463.63,493.45 461.87,488.57 460.80,484.60 C459.73,480.63 458.75,476.35 458.90,473.60 C459.05,470.85 460.02,469.47 461.70,468.10Z"/></clipPath>
<path d="M461.70,468.10 C463.38,466.73 466.27,465.70 469.00,465.40 C471.73,465.10 475.67,466.62 478.10,466.30 C480.53,465.98 481.77,463.50 483.60,463.50 C485.43,463.50 487.73,464.62 489.10,466.30 C490.47,467.98 491.50,470.55 491.80,473.60 C492.10,476.65 491.35,480.95 490.90,484.60 C490.45,488.25 489.70,492.15 489.10,495.50 C488.50,498.85 488.52,502.10 487.30,504.70 C486.08,507.30 483.33,509.58 481.80,511.10 C480.27,512.62 479.93,514.27 478.10,513.80 C476.27,513.33 472.93,511.03 470.80,508.30 C468.67,505.57 466.97,501.35 465.30,497.40 C463.63,493.45 461.87,488.57 460.80,484.60 C459.73,480.63 458.75,476.35 458.90,473.60 C459.05,470.85 460.02,469.47 461.70,468.10Z" fill="#a81a24"/>
<g clip-path="url(#c19)"><g filter="url(#bl)">
<ellipse cx="467.00" cy="488.00" rx="1.20" ry="3.00" fill="#f0c8c8" opacity="0.80"/>
<ellipse cx="478.00" cy="477.00" rx="2.00" ry="1.50" fill="#e8a8a8" opacity="0.60"/>
<ellipse cx="482.00" cy="500.00" rx="2.00" ry="2.00" fill="#e09090" opacity="0.50"/>
</g></g>
</g>
</svg>
<svg width="520" height="350" viewBox="0 0 520 350" style="position:absolute;left:0;top:0;filter:blur(0.3px)">
<g font-family='"Liberation Sans", sans-serif' fill="#332f36">
<text x="-0.3" y="8.1" font-size="11.7" font-weight="bold" fill="#111">A</text>
<text x="145" y="18.1" font-size="9.3" text-anchor="middle" fill="#222">KS-SLK</text>
<text x="390" y="17.9" font-size="9.1" text-anchor="middle" fill="#222">KS-IMM</text>
<path d="M31.5,16.3 V318.1 H247.7 V320.6" stroke="#5a5a5a" stroke-width="1.1" fill="none"/>
<path d="M29,318.10 H31.5" stroke="#5a5a5a" stroke-width="1"/>
<text transform="translate(24.4,320.95) scale(0.9,1)" font-size="7.9" text-anchor="end">0</text>
<path d="M29,284.59 H31.5" stroke="#5a5a5a" stroke-width="1"/>
<text transform="translate(24.4,287.44) scale(0.9,1)" font-size="7.9" text-anchor="end">100</text>
<path d="M29,251.08 H31.5" stroke="#5a5a5a" stroke-width="1"/>
<text transform="translate(24.4,253.93) scale(0.9,1)" font-size="7.9" text-anchor="end">200</text>
<path d="M29,217.57 H31.5" stroke="#5a5a5a" stroke-width="1"/>
<text transform="translate(24.4,220.42) scale(0.9,1)" font-size="7.9" text-anchor="end">300</text>
<path d="M29,184.06 H31.5" stroke="#5a5a5a" stroke-width="1"/>
<text transform="translate(24.4,186.91) scale(0.9,1)" font-size="7.9" text-anchor="end">400</text>
<path d="M29,150.55 H31.5" stroke="#5a5a5a" stroke-width="1"/>
<text transform="translate(24.4,153.40) scale(0.9,1)" font-size="7.9" text-anchor="end">500</text>
<path d="M29,117.03 H31.5" stroke="#5a5a5a" stroke-width="1"/>
<text transform="translate(24.4,119.88) scale(0.9,1)" font-size="7.9" text-anchor="end">600</text>
<path d="M29,83.52 H31.5" stroke="#5a5a5a" stroke-width="1"/>
<text transform="translate(24.4,86.37) scale(0.9,1)" font-size="7.9" text-anchor="end">700</text>
<path d="M29,50.01 H31.5" stroke="#5a5a5a" stroke-width="1"/>
<text transform="translate(24.4,52.86) scale(0.9,1)" font-size="7.9" text-anchor="end">800</text>
<path d="M29,16.50 H31.5" stroke="#5a5a5a" stroke-width="1"/>
<text transform="translate(24.4,19.35) scale(0.9,1)" font-size="7.9" text-anchor="end">900</text>
<path d="M31.50,318.1 V320.6" stroke="#5a5a5a" stroke-width="1"/>
<text transform="translate(31.50,331.9) scale(0.9,1)" font-size="7.9" text-anchor="middle">0</text>
<path d="M58.50,318.1 V320.6" stroke="#5a5a5a" stroke-width="1"/>
<text transform="translate(58.50,331.9) scale(0.9,1)" font-size="7.9" text-anchor="middle">5</text>
<path d="M85.50,318.1 V320.6" stroke="#5a5a5a" stroke-width="1"/>
<text transform="translate(85.50,331.9) scale(0.9,1)" font-size="7.9" text-anchor="middle">10</text>
<path d="M112.50,318.1 V320.6" stroke="#5a5a5a" stroke-width="1"/>
<text transform="translate(112.50,331.9) scale(0.9,1)" font-size="7.9" text-anchor="middle">15</text>
<path d="M139.50,318.1 V320.6" stroke="#5a5a5a" stroke-width="1"/>
<text transform="translate(139.50,331.9) scale(0.9,1)" font-size="7.9" text-anchor="middle">20</text>
<path d="M166.50,318.1 V320.6" stroke="#5a5a5a" stroke-width="1"/>
<text transform="translate(166.50,331.9) scale(0.9,1)" font-size="7.9" text-anchor="middle">25</text>
<path d="M193.50,318.1 V320.6" stroke="#5a5a5a" stroke-width="1"/>
<text transform="translate(193.50,331.9) scale(0.9,1)" font-size="7.9" text-anchor="middle">30</text>
<path d="M220.50,318.1 V320.6" stroke="#5a5a5a" stroke-width="1"/>
<text transform="translate(220.50,331.9) scale(0.9,1)" font-size="7.9" text-anchor="middle">35</text>
<path d="M247.50,318.1 V320.6" stroke="#5a5a5a" stroke-width="1"/>
<text transform="translate(247.50,331.9) scale(0.9,1)" font-size="7.9" text-anchor="middle">40</text>
<text x="138" y="346" font-size="9.7" text-anchor="middle" fill="#222">Days after implantation</text>
<text transform="translate(6.2,139.8) rotate(-90)" font-size="7.3" text-anchor="middle">Tumor size (cmm)</text>
<path d="M307.6,15 V318.1 H520" stroke="#5a5a5a" stroke-width="1.1" fill="none"/>
<path d="M305,318.10 H307.6" stroke="#5a5a5a" stroke-width="1"/>
<text transform="translate(300.8,320.95) scale(0.9,1)" font-size="7.9" text-anchor="end">0</text>
<path d="M305,289.23 H307.6" stroke="#5a5a5a" stroke-width="1"/>
<text transform="translate(300.8,292.08) scale(0.9,1)" font-size="7.9" text-anchor="end">100</text>
<path d="M305,260.36 H307.6" stroke="#5a5a5a" stroke-width="1"/>
<text transform="translate(300.8,263.21) scale(0.9,1)" font-size="7.9" text-anchor="end">200</text>
<path d="M305,231.49 H307.6" stroke="#5a5a5a" stroke-width="1"/>
<text transform="translate(300.8,234.34) scale(0.9,1)" font-size="7.9" text-anchor="end">300</text>
<path d="M305,202.62 H307.6" stroke="#5a5a5a" stroke-width="1"/>
<text transform="translate(300.8,205.47) scale(0.9,1)" font-size="7.9" text-anchor="end">400</text>
<path d="M305,173.75 H307.6" stroke="#5a5a5a" stroke-width="1"/>
<text transform="translate(300.8,176.60) scale(0.9,1)" font-size="7.9" text-anchor="end">500</text>
<path d="M305,144.88 H307.6" stroke="#5a5a5a" stroke-width="1"/>
<text transform="translate(300.8,147.73) scale(0.9,1)" font-size="7.9" text-anchor="end">600</text>
<path d="M305,116.01 H307.6" stroke="#5a5a5a" stroke-width="1"/>
<text transform="translate(300.8,118.86) scale(0.9,1)" font-size="7.9" text-anchor="end">700</text>
<path d="M305,87.14 H307.6" stroke="#5a5a5a" stroke-width="1"/>
<text transform="translate(300.8,89.99) scale(0.9,1)" font-size="7.9" text-anchor="end">800</text>
<path d="M305,58.27 H307.6" stroke="#5a5a5a" stroke-width="1"/>
<text transform="translate(300.8,61.12) scale(0.9,1)" font-size="7.9" text-anchor="end">900</text>
<path d="M305,29.40 H307.6" stroke="#5a5a5a" stroke-width="1"/>
<text transform="translate(300.8,32.25) scale(0.9,1)" font-size="7.9" text-anchor="end">1000</text>
<path d="M307.50,318.1 V320.6" stroke="#5a5a5a" stroke-width="1"/>
<text transform="translate(307.50,331.9) scale(0.9,1)" font-size="7.9" text-anchor="middle">0</text>
<path d="M338.75,318.1 V320.6" stroke="#5a5a5a" stroke-width="1"/>
<text transform="translate(338.75,331.9) scale(0.9,1)" font-size="7.9" text-anchor="middle">5</text>
<path d="M370.00,318.1 V320.6" stroke="#5a5a5a" stroke-width="1"/>
<text transform="translate(370.00,331.9) scale(0.9,1)" font-size="7.9" text-anchor="middle">10</text>
<path d="M401.25,318.1 V320.6" stroke="#5a5a5a" stroke-width="1"/>
<text transform="translate(401.25,331.9) scale(0.9,1)" font-size="7.9" text-anchor="middle">15</text>
<path d="M432.50,318.1 V320.6" stroke="#5a5a5a" stroke-width="1"/>
<text transform="translate(432.50,331.9) scale(0.9,1)" font-size="7.9" text-anchor="middle">20</text>
<path d="M463.75,318.1 V320.6" stroke="#5a5a5a" stroke-width="1"/>
<text transform="translate(463.75,331.9) scale(0.9,1)" font-size="7.9" text-anchor="middle">25</text>
<path d="M495.00,318.1 V320.6" stroke="#5a5a5a" stroke-width="1"/>
<text transform="translate(495.00,331.9) scale(0.9,1)" font-size="7.9" text-anchor="middle">30</text>
<text x="415" y="346" font-size="9.7" text-anchor="middle" fill="#222">Days after implantation</text>
<text transform="translate(278.3,145.5) rotate(-90)" font-size="7.3" text-anchor="middle">Tumor size (cmm)</text>
</g>
<path d="M53.30,99.50 H67.50" stroke="#262626" stroke-width="1"/>
<circle cx="60.50" cy="99.50" r="2.09" fill="#000000"/>
<text x="69.20" y="102.10" font-family='"Liberation Sans", sans-serif' font-size="7.4" fill="#332f36">Control</text>
<path d="M53.30,117.50 H67.50" stroke="#e8505a" stroke-width="1"/>
<circle cx="60.50" cy="117.50" r="2.09" fill="#e0101c"/>
<text x="69.20" y="120.10" font-family='"Liberation Sans", sans-serif' font-size="7.4" fill="#332f36">Avastin</text>
<path d="M53.30,135.50 H67.50" stroke="#4646ea" stroke-width="1"/>
<path d="M60.50,133.31 L62.69,137.25 L58.31,137.25 Z" fill="#1010c0"/>
<text x="69.20" y="138.10" font-family='"Liberation Sans", sans-serif' font-size="7.4" fill="#332f36">sEphB4-HSA</text>
<path d="M53.30,153.50 H67.50" stroke="#34aa5a" stroke-width="1"/>
<rect x="58.41" y="151.41" width="4.18" height="4.18" rx="0.8" fill="#149448"/>
<text x="69.20" y="156.10" font-family='"Liberation Sans", sans-serif' font-size="7.4" fill="#332f36">sEphB4-HSA/Avastin</text>
<path d="M317.00,92.00 H332.00" stroke="#262626" stroke-width="1"/>
<circle cx="324.50" cy="92.00" r="2.09" fill="#000000"/>
<text x="333.00" y="94.60" font-family='"Liberation Sans", sans-serif' font-size="7.4" fill="#332f36">Control</text>
<path d="M317.00,113.00 H332.00" stroke="#e8505a" stroke-width="1"/>
<circle cx="324.50" cy="113.00" r="2.09" fill="#e0101c"/>
<text x="333.00" y="115.60" font-family='"Liberation Sans", sans-serif' font-size="7.4" fill="#332f36">Avastin</text>
<path d="M317.00,133.80 H332.00" stroke="#4646ea" stroke-width="1"/>
<path d="M324.50,131.62 L326.69,135.55 L322.31,135.55 Z" fill="#1010c0"/>
<text x="333.00" y="136.40" font-family='"Liberation Sans", sans-serif' font-size="7.4" fill="#332f36">sEphB4-HSA</text>
<path d="M317.00,154.30 H332.00" stroke="#34aa5a" stroke-width="1"/>
<rect x="322.41" y="152.21" width="4.18" height="4.18" rx="0.8" fill="#149448"/>
<text x="333.00" y="156.90" font-family='"Liberation Sans", sans-serif' font-size="7.4" fill="#332f36">sEphB4-HSA/Avastin</text>
<path d="M31.50,318.00 C35.10,314.50 46.80,302.50 53.10,297.00 C59.40,291.50 63.00,289.33 69.30,285.00 C75.60,280.67 84.60,274.83 90.90,271.00 C97.20,267.17 100.80,266.77 107.10,262.00 C113.40,257.23 122.40,245.98 128.70,242.40 C135.00,238.82 137.70,245.15 144.90,240.50 C152.10,235.85 165.60,224.92 171.90,214.50 C178.20,204.08 177.30,192.62 182.70,178.00 C188.10,163.38 198.00,141.47 204.30,126.80 C210.60,112.13 214.20,102.90 220.50,90.00 C226.80,77.10 238.50,56.17 242.10,49.40" fill="none" stroke="#262626" stroke-width="0.9"/>
<path d="M53.10,293.50 V300.50 M51.30,293.50 H54.90 M51.30,300.50 H54.90" stroke="#3c3c3c" stroke-width="1" fill="none"/>
<path d="M69.30,281.50 V288.50 M67.50,281.50 H71.10 M67.50,288.50 H71.10" stroke="#3c3c3c" stroke-width="1" fill="none"/>
<path d="M90.90,266.50 V275.50 M89.10,266.50 H92.70 M89.10,275.50 H92.70" stroke="#3c3c3c" stroke-width="1" fill="none"/>
<path d="M107.10,256.60 V267.40 M105.30,256.60 H108.90 M105.30,267.40 H108.90" stroke="#3c3c3c" stroke-width="1" fill="none"/>
<path d="M128.70,234.90 V249.90 M126.90,234.90 H130.50 M126.90,249.90 H130.50" stroke="#3c3c3c" stroke-width="1" fill="none"/>
<path d="M144.90,233.00 V248.00 M143.10,233.00 H146.70 M143.10,248.00 H146.70" stroke="#3c3c3c" stroke-width="1" fill="none"/>
<path d="M171.90,204.50 V224.50 M170.10,204.50 H173.70 M170.10,224.50 H173.70" stroke="#3c3c3c" stroke-width="1" fill="none"/>
<path d="M182.70,164.30 V191.70 M180.90,164.30 H184.50 M180.90,191.70 H184.50" stroke="#3c3c3c" stroke-width="1" fill="none"/>
<path d="M204.30,108.10 V145.50 M202.50,108.10 H206.10 M202.50,145.50 H206.10" stroke="#3c3c3c" stroke-width="1" fill="none"/>
<path d="M220.50,67.60 V112.40 M218.70,67.60 H222.30 M218.70,112.40 H222.30" stroke="#3c3c3c" stroke-width="1" fill="none"/>
<path d="M242.10,22.80 V76.00 M240.30,22.80 H243.90 M240.30,76.00 H243.90" stroke="#3c3c3c" stroke-width="1" fill="none"/>
<circle cx="31.50" cy="318.00" r="2.20" fill="#000000"/>
<circle cx="53.10" cy="297.00" r="2.20" fill="#000000"/>
<circle cx="69.30" cy="285.00" r="2.20" fill="#000000"/>
<circle cx="90.90" cy="271.00" r="2.20" fill="#000000"/>
<circle cx="107.10" cy="262.00" r="2.20" fill="#000000"/>
<circle cx="128.70" cy="242.40" r="2.20" fill="#000000"/>
<circle cx="144.90" cy="240.50" r="2.20" fill="#000000"/>
<circle cx="171.90" cy="214.50" r="2.20" fill="#000000"/>
<circle cx="182.70" cy="178.00" r="2.20" fill="#000000"/>
<circle cx="204.30" cy="126.80" r="2.20" fill="#000000"/>
<circle cx="220.50" cy="90.00" r="2.20" fill="#000000"/>
<circle cx="242.10" cy="49.40" r="2.20" fill="#000000"/>
<path d="M31.50,318.00 C35.10,314.67 46.80,302.17 53.10,298.00 C59.40,293.83 63.00,294.58 69.30,293.00 C75.60,291.42 84.60,290.17 90.90,288.50 C97.20,286.83 100.80,284.08 107.10,283.00 C113.40,281.92 122.40,280.83 128.70,282.00 C135.00,283.17 137.70,290.73 144.90,290.00 C152.10,289.27 165.60,282.23 171.90,277.60 C178.20,272.97 177.30,268.05 182.70,262.20 C188.10,256.35 198.00,249.12 204.30,242.50 C210.60,235.88 214.20,228.70 220.50,222.50 C226.80,216.30 238.50,208.17 242.10,205.30" fill="none" stroke="#e8505a" stroke-width="0.9"/>
<path d="M53.10,295.00 V301.00 M51.30,295.00 H54.90 M51.30,301.00 H54.90" stroke="#3c3c3c" stroke-width="1" fill="none"/>
<path d="M69.30,290.00 V296.00 M67.50,290.00 H71.10 M67.50,296.00 H71.10" stroke="#3c3c3c" stroke-width="1" fill="none"/>
<path d="M90.90,285.50 V291.50 M89.10,285.50 H92.70 M89.10,291.50 H92.70" stroke="#3c3c3c" stroke-width="1" fill="none"/>
<path d="M107.10,279.00 V287.00 M105.30,279.00 H108.90 M105.30,287.00 H108.90" stroke="#3c3c3c" stroke-width="1" fill="none"/>
<path d="M128.70,278.00 V286.00 M126.90,278.00 H130.50 M126.90,286.00 H130.50" stroke="#3c3c3c" stroke-width="1" fill="none"/>
<path d="M144.90,286.50 V293.50 M143.10,286.50 H146.70 M143.10,293.50 H146.70" stroke="#3c3c3c" stroke-width="1" fill="none"/>
<path d="M171.90,273.20 V282.00 M170.10,273.20 H173.70 M170.10,282.00 H173.70" stroke="#3c3c3c" stroke-width="1" fill="none"/>
<path d="M182.70,256.00 V268.40 M180.90,256.00 H184.50 M180.90,268.40 H184.50" stroke="#3c3c3c" stroke-width="1" fill="none"/>
<path d="M204.30,234.00 V251.00 M202.50,234.00 H206.10 M202.50,251.00 H206.10" stroke="#3c3c3c" stroke-width="1" fill="none"/>
<path d="M220.50,212.00 V233.00 M218.70,212.00 H222.30 M218.70,233.00 H222.30" stroke="#3c3c3c" stroke-width="1" fill="none"/>
<path d="M242.10,192.80 V217.80 M240.30,192.80 H243.90 M240.30,217.80 H243.90" stroke="#3c3c3c" stroke-width="1" fill="none"/>
<circle cx="31.50" cy="318.00" r="2.20" fill="#e0101c"/>
<circle cx="53.10" cy="298.00" r="2.20" fill="#e0101c"/>
<circle cx="69.30" cy="293.00" r="2.20" fill="#e0101c"/>
<circle cx="90.90" cy="288.50" r="2.20" fill="#e0101c"/>
<circle cx="107.10" cy="283.00" r="2.20" fill="#e0101c"/>
<circle cx="128.70" cy="282.00" r="2.20" fill="#e0101c"/>
<circle cx="144.90" cy="290.00" r="2.20" fill="#e0101c"/>
<circle cx="171.90" cy="277.60" r="2.20" fill="#e0101c"/>
<circle cx="182.70" cy="262.20" r="2.20" fill="#e0101c"/>
<circle cx="204.30" cy="242.50" r="2.20" fill="#e0101c"/>
<circle cx="220.50" cy="222.50" r="2.20" fill="#e0101c"/>
<circle cx="242.10" cy="205.30" r="2.20" fill="#e0101c"/>
<path d="M31.50,318.00 C35.10,314.83 46.80,301.90 53.10,299.00 C59.40,296.10 63.00,301.60 69.30,300.60 C75.60,299.60 84.60,294.38 90.90,293.00 C97.20,291.62 100.80,292.22 107.10,292.30 C113.40,292.38 122.40,292.83 128.70,293.50 C135.00,294.17 137.70,296.78 144.90,296.30 C152.10,295.82 165.60,291.28 171.90,290.60 C178.20,289.92 177.30,292.52 182.70,292.20 C188.10,291.88 198.00,290.23 204.30,288.70 C210.60,287.17 214.20,285.75 220.50,283.00 C226.80,280.25 238.50,274.00 242.10,272.20" fill="none" stroke="#4646ea" stroke-width="0.9"/>
<path d="M53.10,296.00 V302.00 M51.30,296.00 H54.90 M51.30,302.00 H54.90" stroke="#3c3c3c" stroke-width="1" fill="none"/>
<path d="M69.30,298.10 V303.10 M67.50,298.10 H71.10 M67.50,303.10 H71.10" stroke="#3c3c3c" stroke-width="1" fill="none"/>
<path d="M90.90,290.00 V296.00 M89.10,290.00 H92.70 M89.10,296.00 H92.70" stroke="#3c3c3c" stroke-width="1" fill="none"/>
<path d="M107.10,289.30 V295.30 M105.30,289.30 H108.90 M105.30,295.30 H108.90" stroke="#3c3c3c" stroke-width="1" fill="none"/>
<path d="M128.70,289.50 V297.50 M126.90,289.50 H130.50 M126.90,297.50 H130.50" stroke="#3c3c3c" stroke-width="1" fill="none"/>
<path d="M144.90,292.80 V299.80 M143.10,292.80 H146.70 M143.10,299.80 H146.70" stroke="#3c3c3c" stroke-width="1" fill="none"/>
<path d="M171.90,286.60 V294.60 M170.10,286.60 H173.70 M170.10,294.60 H173.70" stroke="#3c3c3c" stroke-width="1" fill="none"/>
<path d="M182.70,287.70 V296.70 M180.90,287.70 H184.50 M180.90,296.70 H184.50" stroke="#3c3c3c" stroke-width="1" fill="none"/>
<path d="M204.30,283.70 V293.70 M202.50,283.70 H206.10 M202.50,293.70 H206.10" stroke="#3c3c3c" stroke-width="1" fill="none"/>
<path d="M220.50,278.00 V288.00 M218.70,278.00 H222.30 M218.70,288.00 H222.30" stroke="#3c3c3c" stroke-width="1" fill="none"/>
<path d="M242.10,265.70 V278.70 M240.30,265.70 H243.90 M240.30,278.70 H243.90" stroke="#3c3c3c" stroke-width="1" fill="none"/>
<path d="M31.50,315.70 L33.80,319.84 L29.20,319.84 Z" fill="#1010c0"/>
<path d="M53.10,296.70 L55.40,300.84 L50.80,300.84 Z" fill="#1010c0"/>
<path d="M69.30,298.30 L71.60,302.44 L67.00,302.44 Z" fill="#1010c0"/>
<path d="M90.90,290.70 L93.20,294.84 L88.60,294.84 Z" fill="#1010c0"/>
<path d="M107.10,290.00 L109.40,294.14 L104.80,294.14 Z" fill="#1010c0"/>
<path d="M128.70,291.20 L131.00,295.34 L126.40,295.34 Z" fill="#1010c0"/>
<path d="M144.90,294.00 L147.20,298.14 L142.60,298.14 Z" fill="#1010c0"/>
<path d="M171.90,288.30 L174.20,292.44 L169.60,292.44 Z" fill="#1010c0"/>
<path d="M182.70,289.90 L185.00,294.04 L180.40,294.04 Z" fill="#1010c0"/>
<path d="M204.30,286.40 L206.60,290.54 L202.00,290.54 Z" fill="#1010c0"/>
<path d="M220.50,280.70 L222.80,284.84 L218.20,284.84 Z" fill="#1010c0"/>
<path d="M242.10,269.90 L244.40,274.04 L239.80,274.04 Z" fill="#1010c0"/>
<path d="M31.50,318.00 C35.10,314.93 46.80,303.22 53.10,299.60 C59.40,295.98 63.00,298.28 69.30,296.30 C75.60,294.32 84.60,289.22 90.90,287.70 C97.20,286.18 100.80,286.25 107.10,287.20 C113.40,288.15 122.40,291.40 128.70,293.40 C135.00,295.40 137.70,298.45 144.90,299.20 C152.10,299.95 165.60,298.50 171.90,297.90 C178.20,297.30 177.30,296.17 182.70,295.60 C188.10,295.03 198.00,294.88 204.30,294.50 C210.60,294.12 214.20,294.05 220.50,293.30 C226.80,292.55 238.50,290.55 242.10,290.00" fill="none" stroke="#34aa5a" stroke-width="0.9"/>
<path d="M53.10,296.10 V303.10 M51.30,296.10 H54.90 M51.30,303.10 H54.90" stroke="#3c3c3c" stroke-width="1" fill="none"/>
<path d="M69.30,293.30 V299.30 M67.50,293.30 H71.10 M67.50,299.30 H71.10" stroke="#3c3c3c" stroke-width="1" fill="none"/>
<path d="M90.90,281.70 V293.70 M89.10,281.70 H92.70 M89.10,293.70 H92.70" stroke="#3c3c3c" stroke-width="1" fill="none"/>
<path d="M107.10,283.20 V291.20 M105.30,283.20 H108.90 M105.30,291.20 H108.90" stroke="#3c3c3c" stroke-width="1" fill="none"/>
<path d="M128.70,288.40 V298.40 M126.90,288.40 H130.50 M126.90,298.40 H130.50" stroke="#3c3c3c" stroke-width="1" fill="none"/>
<path d="M144.90,295.20 V303.20 M143.10,295.20 H146.70 M143.10,303.20 H146.70" stroke="#3c3c3c" stroke-width="1" fill="none"/>
<path d="M171.90,293.40 V302.40 M170.10,293.40 H173.70 M170.10,302.40 H173.70" stroke="#3c3c3c" stroke-width="1" fill="none"/>
<path d="M182.70,291.10 V300.10 M180.90,291.10 H184.50 M180.90,300.10 H184.50" stroke="#3c3c3c" stroke-width="1" fill="none"/>
<path d="M204.30,289.50 V299.50 M202.50,289.50 H206.10 M202.50,299.50 H206.10" stroke="#3c3c3c" stroke-width="1" fill="none"/>
<path d="M220.50,288.80 V297.80 M218.70,288.80 H222.30 M218.70,297.80 H222.30" stroke="#3c3c3c" stroke-width="1" fill="none"/>
<path d="M242.10,284.40 V295.60 M240.30,284.40 H243.90 M240.30,295.60 H243.90" stroke="#3c3c3c" stroke-width="1" fill="none"/>
<rect x="29.30" y="315.80" width="4.40" height="4.40" rx="0.8" fill="#149448"/>
<rect x="50.90" y="297.40" width="4.40" height="4.40" rx="0.8" fill="#149448"/>
<rect x="67.10" y="294.10" width="4.40" height="4.40" rx="0.8" fill="#149448"/>
<rect x="88.70" y="285.50" width="4.40" height="4.40" rx="0.8" fill="#149448"/>
<rect x="104.90" y="285.00" width="4.40" height="4.40" rx="0.8" fill="#149448"/>
<rect x="126.50" y="291.20" width="4.40" height="4.40" rx="0.8" fill="#149448"/>
<rect x="142.70" y="297.00" width="4.40" height="4.40" rx="0.8" fill="#149448"/>
<rect x="169.70" y="295.70" width="4.40" height="4.40" rx="0.8" fill="#149448"/>
<rect x="180.50" y="293.40" width="4.40" height="4.40" rx="0.8" fill="#149448"/>
<rect x="202.10" y="292.30" width="4.40" height="4.40" rx="0.8" fill="#149448"/>
<rect x="218.30" y="291.10" width="4.40" height="4.40" rx="0.8" fill="#149448"/>
<rect x="239.90" y="287.80" width="4.40" height="4.40" rx="0.8" fill="#149448"/>
<path d="M307.50,318.00 C311.67,315.55 325.21,306.22 332.50,303.30 C339.79,300.38 343.96,302.05 351.25,300.50 C358.54,298.95 368.96,297.25 376.25,294.00 C383.54,290.75 387.71,289.92 395.00,281.00 C402.29,272.08 412.71,256.42 420.00,240.50 C427.29,224.58 431.46,206.72 438.75,185.50 C446.04,164.28 456.46,127.87 463.75,113.20 C471.04,98.53 475.21,110.00 482.50,97.50 C489.79,85.00 503.33,48.08 507.50,38.20" fill="none" stroke="#262626" stroke-width="0.9"/>
<path d="M307.50,307.50 V318.00 M305.70,307.50 H309.30" stroke="#3c3c3c" stroke-width="1" fill="none"/>
<path d="M332.50,292.30 V314.30 M330.70,292.30 H334.30 M330.70,314.30 H334.30" stroke="#3c3c3c" stroke-width="1" fill="none"/>
<path d="M351.25,296.50 V304.50 M349.45,296.50 H353.05 M349.45,304.50 H353.05" stroke="#3c3c3c" stroke-width="1" fill="none"/>
<path d="M376.25,290.00 V298.00 M374.45,290.00 H378.05 M374.45,298.00 H378.05" stroke="#3c3c3c" stroke-width="1" fill="none"/>
<path d="M395.00,276.00 V286.00 M393.20,276.00 H396.80 M393.20,286.00 H396.80" stroke="#3c3c3c" stroke-width="1" fill="none"/>
<path d="M420.00,235.00 V246.00 M418.20,235.00 H421.80 M418.20,246.00 H421.80" stroke="#3c3c3c" stroke-width="1" fill="none"/>
<path d="M438.75,176.50 V194.50 M436.95,176.50 H440.55 M436.95,194.50 H440.55" stroke="#3c3c3c" stroke-width="1" fill="none"/>
<path d="M463.75,98.60 V127.80 M461.95,98.60 H465.55 M461.95,127.80 H465.55" stroke="#3c3c3c" stroke-width="1" fill="none"/>
<path d="M482.50,82.50 V112.50 M480.70,82.50 H484.30 M480.70,112.50 H484.30" stroke="#3c3c3c" stroke-width="1" fill="none"/>
<path d="M507.50,18.90 V57.50 M505.70,18.90 H509.30 M505.70,57.50 H509.30" stroke="#3c3c3c" stroke-width="1" fill="none"/>
<circle cx="307.50" cy="318.00" r="2.20" fill="#000000"/>
<circle cx="332.50" cy="303.30" r="2.20" fill="#000000"/>
<circle cx="351.25" cy="300.50" r="2.20" fill="#000000"/>
<circle cx="376.25" cy="294.00" r="2.20" fill="#000000"/>
<circle cx="395.00" cy="281.00" r="2.20" fill="#000000"/>
<circle cx="420.00" cy="240.50" r="2.20" fill="#000000"/>
<circle cx="438.75" cy="185.50" r="2.20" fill="#000000"/>
<circle cx="463.75" cy="113.20" r="2.20" fill="#000000"/>
<circle cx="482.50" cy="97.50" r="2.20" fill="#000000"/>
<circle cx="507.50" cy="38.20" r="2.20" fill="#000000"/>
<path d="M307.50,318.00 C311.67,315.55 325.21,306.38 332.50,303.30 C339.79,300.22 343.96,300.22 351.25,299.50 C358.54,298.78 368.96,299.65 376.25,299.00 C383.54,298.35 387.71,298.27 395.00,295.60 C402.29,292.93 412.71,285.63 420.00,283.00 C427.29,280.37 431.46,281.50 438.75,279.80 C446.04,278.10 456.46,275.80 463.75,272.80 C471.04,269.80 475.21,265.33 482.50,261.80 C489.79,258.27 503.33,253.30 507.50,251.60" fill="none" stroke="#e8505a" stroke-width="0.9"/>
<path d="M307.50,311.00 V318.00 M305.70,311.00 H309.30" stroke="#3c3c3c" stroke-width="1" fill="none"/>
<path d="M332.50,296.30 V310.30 M330.70,296.30 H334.30 M330.70,310.30 H334.30" stroke="#3c3c3c" stroke-width="1" fill="none"/>
<path d="M351.25,295.50 V303.50 M349.45,295.50 H353.05 M349.45,303.50 H353.05" stroke="#3c3c3c" stroke-width="1" fill="none"/>
<path d="M376.25,295.00 V303.00 M374.45,295.00 H378.05 M374.45,303.00 H378.05" stroke="#3c3c3c" stroke-width="1" fill="none"/>
<path d="M395.00,291.60 V299.60 M393.20,291.60 H396.80 M393.20,299.60 H396.80" stroke="#3c3c3c" stroke-width="1" fill="none"/>
<path d="M420.00,278.00 V288.00 M418.20,278.00 H421.80 M418.20,288.00 H421.80" stroke="#3c3c3c" stroke-width="1" fill="none"/>
<path d="M438.75,273.30 V286.30 M436.95,273.30 H440.55 M436.95,286.30 H440.55" stroke="#3c3c3c" stroke-width="1" fill="none"/>
<path d="M463.75,266.80 V278.80 M461.95,266.80 H465.55 M461.95,278.80 H465.55" stroke="#3c3c3c" stroke-width="1" fill="none"/>
<path d="M482.50,255.80 V267.80 M480.70,255.80 H484.30 M480.70,267.80 H484.30" stroke="#3c3c3c" stroke-width="1" fill="none"/>
<path d="M507.50,245.20 V258.00 M505.70,245.20 H509.30 M505.70,258.00 H509.30" stroke="#3c3c3c" stroke-width="1" fill="none"/>
<circle cx="307.50" cy="318.00" r="2.20" fill="#e0101c"/>
<circle cx="332.50" cy="303.30" r="2.20" fill="#e0101c"/>
<circle cx="351.25" cy="299.50" r="2.20" fill="#e0101c"/>
<circle cx="376.25" cy="299.00" r="2.20" fill="#e0101c"/>
<circle cx="395.00" cy="295.60" r="2.20" fill="#e0101c"/>
<circle cx="420.00" cy="283.00" r="2.20" fill="#e0101c"/>
<circle cx="438.75" cy="279.80" r="2.20" fill="#e0101c"/>
<circle cx="463.75" cy="272.80" r="2.20" fill="#e0101c"/>
<circle cx="482.50" cy="261.80" r="2.20" fill="#e0101c"/>
<circle cx="507.50" cy="251.60" r="2.20" fill="#e0101c"/>
<path d="M307.50,318.00 C311.67,315.55 325.21,305.55 332.50,303.30 C339.79,301.05 343.96,304.12 351.25,304.50 C358.54,304.88 368.96,306.45 376.25,305.60 C383.54,304.75 387.71,302.92 395.00,299.40 C402.29,295.88 412.71,290.73 420.00,284.50 C427.29,278.27 431.46,268.52 438.75,262.00 C446.04,255.48 456.46,248.65 463.75,245.40 C471.04,242.15 475.21,247.82 482.50,242.50 C489.79,237.18 503.33,218.33 507.50,213.50" fill="none" stroke="#4646ea" stroke-width="0.9"/>
<path d="M307.50,313.00 V318.00 M305.70,313.00 H309.30" stroke="#3c3c3c" stroke-width="1" fill="none"/>
<path d="M332.50,296.30 V310.30 M330.70,296.30 H334.30 M330.70,310.30 H334.30" stroke="#3c3c3c" stroke-width="1" fill="none"/>
<path d="M351.25,293.50 V315.50 M349.45,293.50 H353.05 M349.45,315.50 H353.05" stroke="#3c3c3c" stroke-width="1" fill="none"/>
<path d="M376.25,300.60 V310.60 M374.45,300.60 H378.05 M374.45,310.60 H378.05" stroke="#3c3c3c" stroke-width="1" fill="none"/>
<path d="M395.00,294.40 V304.40 M393.20,294.40 H396.80 M393.20,304.40 H396.80" stroke="#3c3c3c" stroke-width="1" fill="none"/>
<path d="M420.00,274.50 V294.50 M418.20,274.50 H421.80 M418.20,294.50 H421.80" stroke="#3c3c3c" stroke-width="1" fill="none"/>
<path d="M438.75,251.00 V273.00 M436.95,251.00 H440.55 M436.95,273.00 H440.55" stroke="#3c3c3c" stroke-width="1" fill="none"/>
<path d="M463.75,234.40 V256.40 M461.95,234.40 H465.55 M461.95,256.40 H465.55" stroke="#3c3c3c" stroke-width="1" fill="none"/>
<path d="M482.50,231.90 V253.10 M480.70,231.90 H484.30 M480.70,253.10 H484.30" stroke="#3c3c3c" stroke-width="1" fill="none"/>
<path d="M507.50,202.70 V224.30 M505.70,202.70 H509.30 M505.70,224.30 H509.30" stroke="#3c3c3c" stroke-width="1" fill="none"/>
<path d="M307.50,315.70 L309.80,319.84 L305.20,319.84 Z" fill="#1010c0"/>
<path d="M332.50,301.00 L334.80,305.14 L330.20,305.14 Z" fill="#1010c0"/>
<path d="M351.25,302.20 L353.55,306.34 L348.95,306.34 Z" fill="#1010c0"/>
<path d="M376.25,303.30 L378.55,307.44 L373.95,307.44 Z" fill="#1010c0"/>
<path d="M395.00,297.10 L397.30,301.24 L392.70,301.24 Z" fill="#1010c0"/>
<path d="M420.00,282.20 L422.30,286.34 L417.70,286.34 Z" fill="#1010c0"/>
<path d="M438.75,259.70 L441.05,263.84 L436.45,263.84 Z" fill="#1010c0"/>
<path d="M463.75,243.10 L466.05,247.24 L461.45,247.24 Z" fill="#1010c0"/>
<path d="M482.50,240.20 L484.80,244.34 L480.20,244.34 Z" fill="#1010c0"/>
<path d="M507.50,211.20 L509.80,215.34 L505.20,215.34 Z" fill="#1010c0"/>
<path d="M307.50,318.00 C311.67,315.55 325.21,305.63 332.50,303.30 C339.79,300.97 343.96,303.40 351.25,304.00 C358.54,304.60 368.96,306.53 376.25,306.90 C383.54,307.27 387.71,308.32 395.00,306.20 C402.29,304.08 412.71,296.27 420.00,294.20 C427.29,292.13 431.46,294.07 438.75,293.80 C446.04,293.53 456.46,293.93 463.75,292.60 C471.04,291.27 475.21,287.43 482.50,285.80 C489.79,284.17 503.33,283.30 507.50,282.80" fill="none" stroke="#34aa5a" stroke-width="0.9"/>
<path d="M307.50,313.00 V318.00 M305.70,313.00 H309.30" stroke="#3c3c3c" stroke-width="1" fill="none"/>
<path d="M332.50,296.30 V310.30 M330.70,296.30 H334.30 M330.70,310.30 H334.30" stroke="#3c3c3c" stroke-width="1" fill="none"/>
<path d="M351.25,297.00 V311.00 M349.45,297.00 H353.05 M349.45,311.00 H353.05" stroke="#3c3c3c" stroke-width="1" fill="none"/>
<path d="M376.25,297.40 V316.40 M374.45,297.40 H378.05 M374.45,316.40 H378.05" stroke="#3c3c3c" stroke-width="1" fill="none"/>
<path d="M395.00,302.20 V310.20 M393.20,302.20 H396.80 M393.20,310.20 H396.80" stroke="#3c3c3c" stroke-width="1" fill="none"/>
<path d="M420.00,290.20 V298.20 M418.20,290.20 H421.80 M418.20,298.20 H421.80" stroke="#3c3c3c" stroke-width="1" fill="none"/>
<path d="M438.75,289.80 V297.80 M436.95,289.80 H440.55 M436.95,297.80 H440.55" stroke="#3c3c3c" stroke-width="1" fill="none"/>
<path d="M463.75,289.60 V295.60 M461.95,289.60 H465.55 M461.95,295.60 H465.55" stroke="#3c3c3c" stroke-width="1" fill="none"/>
<path d="M482.50,282.40 V289.20 M480.70,282.40 H484.30 M480.70,289.20 H484.30" stroke="#3c3c3c" stroke-width="1" fill="none"/>
<path d="M507.50,279.20 V286.40 M505.70,279.20 H509.30 M505.70,286.40 H509.30" stroke="#3c3c3c" stroke-width="1" fill="none"/>
<rect x="305.30" y="315.80" width="4.40" height="4.40" rx="0.8" fill="#149448"/>
<rect x="330.30" y="301.10" width="4.40" height="4.40" rx="0.8" fill="#149448"/>
<rect x="349.05" y="301.80" width="4.40" height="4.40" rx="0.8" fill="#149448"/>
<rect x="374.05" y="304.70" width="4.40" height="4.40" rx="0.8" fill="#149448"/>
<rect x="392.80" y="304.00" width="4.40" height="4.40" rx="0.8" fill="#149448"/>
<rect x="417.80" y="292.00" width="4.40" height="4.40" rx="0.8" fill="#149448"/>
<rect x="436.55" y="291.60" width="4.40" height="4.40" rx="0.8" fill="#149448"/>
<rect x="461.55" y="290.40" width="4.40" height="4.40" rx="0.8" fill="#149448"/>
<rect x="480.30" y="283.60" width="4.40" height="4.40" rx="0.8" fill="#149448"/>
<rect x="505.30" y="280.60" width="4.40" height="4.40" rx="0.8" fill="#149448"/>
</svg>
<div style="position:absolute;left:0.5px;top:360.0px;font-weight:bold;font-size:12px;font-family:&quot;Liberation Sans&quot;,sans-serif;color:#111;line-height:11px">B</div>
</body></html>
